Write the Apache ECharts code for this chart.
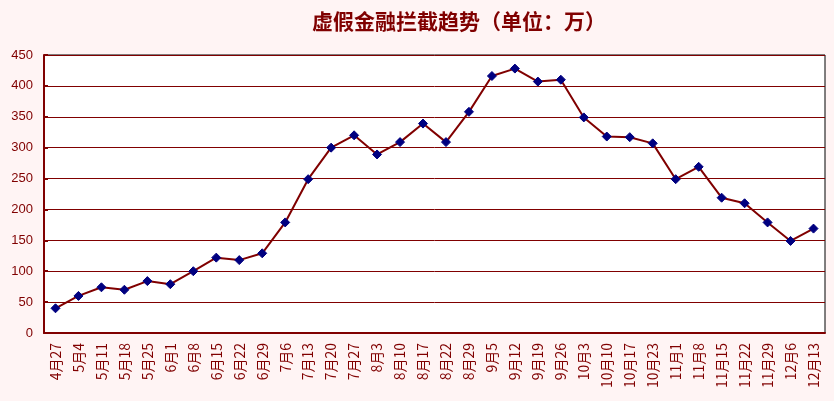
<!DOCTYPE html>
<html><head><meta charset="utf-8">
<script src="https://cdn.jsdelivr.net/npm/echarts@6/dist/echarts.min.js"></script>
<style>html,body{margin:0;padding:0;background:#FFF4F4;}#c{width:834px;height:401px;}</style>
</head><body><div id="c"></div>
<script>
var categories = ['4月27','5月4','5月11','5月18','5月25','6月1','6月8','6月15','6月22','6月29','7月6','7月13','7月20','7月27','8月3','8月10','8月17','8月22','8月29','9月5','9月12','9月19','9月26','10月3','10月10','10月17','10月23','11月1','11月8','11月15','11月22','11月29','12月6','12月13'];
var values = [40,60,74,70,84,79,100,122,118,129,179,249,300,320,289,309,339,309,358,416,428,407,410,349,318,317,307,249,269,219,210,179,149,169];
var yMin = 0, yMax = 450, yStep = 50;
var titleText = '虚假金融拦截趋势（单位：万）';

var chart = echarts.init(document.getElementById('c'), null, {renderer:'canvas'});
chart.setOption({
  backgroundColor: '#FFF4F4',
  animation: false,
  title: {
    text: titleText, left: 454, top: 6, textAlign: 'center',
    textStyle: {color: '#800000', fontSize: 21, fontWeight: 'bold', fontFamily: 'Noto Sans CJK SC'}
  },
  grid: {left: 44, right: 9, top: 55, bottom: 68, show: true, backgroundColor: '#FFFFFF', borderColor: '#000000', borderWidth: 1},
  xAxis: {
    type: 'category', data: categories, boundaryGap: true,
    axisLine: {lineStyle: {color: '#800000', width: 2}},
    axisTick: {inside: true, length: 7, lineStyle: {color: '#800000', width: 2}},
    axisLabel: {rotate: 90, interval: 0, color: '#800000', fontSize: 14, margin: 10, fontFamily: 'Noto Sans CJK SC'}
  },
  yAxis: {
    type: 'value', min: yMin, max: yMax, interval: yStep,
    axisLine: {show: true, lineStyle: {color: '#800000', width: 2}},
    axisTick: {show: true, inside: true, length: 4, lineStyle: {color: '#800000', width: 2}},
    axisLabel: {color: '#800000', fontSize: 13, margin: 11, fontFamily: 'Liberation Sans'},
    splitLine: {show: true, lineStyle: {color: '#800000', width: 1}}
  },
  series: [{
    type: 'line', data: values,
    symbol: 'diamond', symbolSize: 9,
    lineStyle: {color: '#800000', width: 2},
    itemStyle: {color: '#000080', borderColor: '#000080'}
  }]
});
</script></body></html>
